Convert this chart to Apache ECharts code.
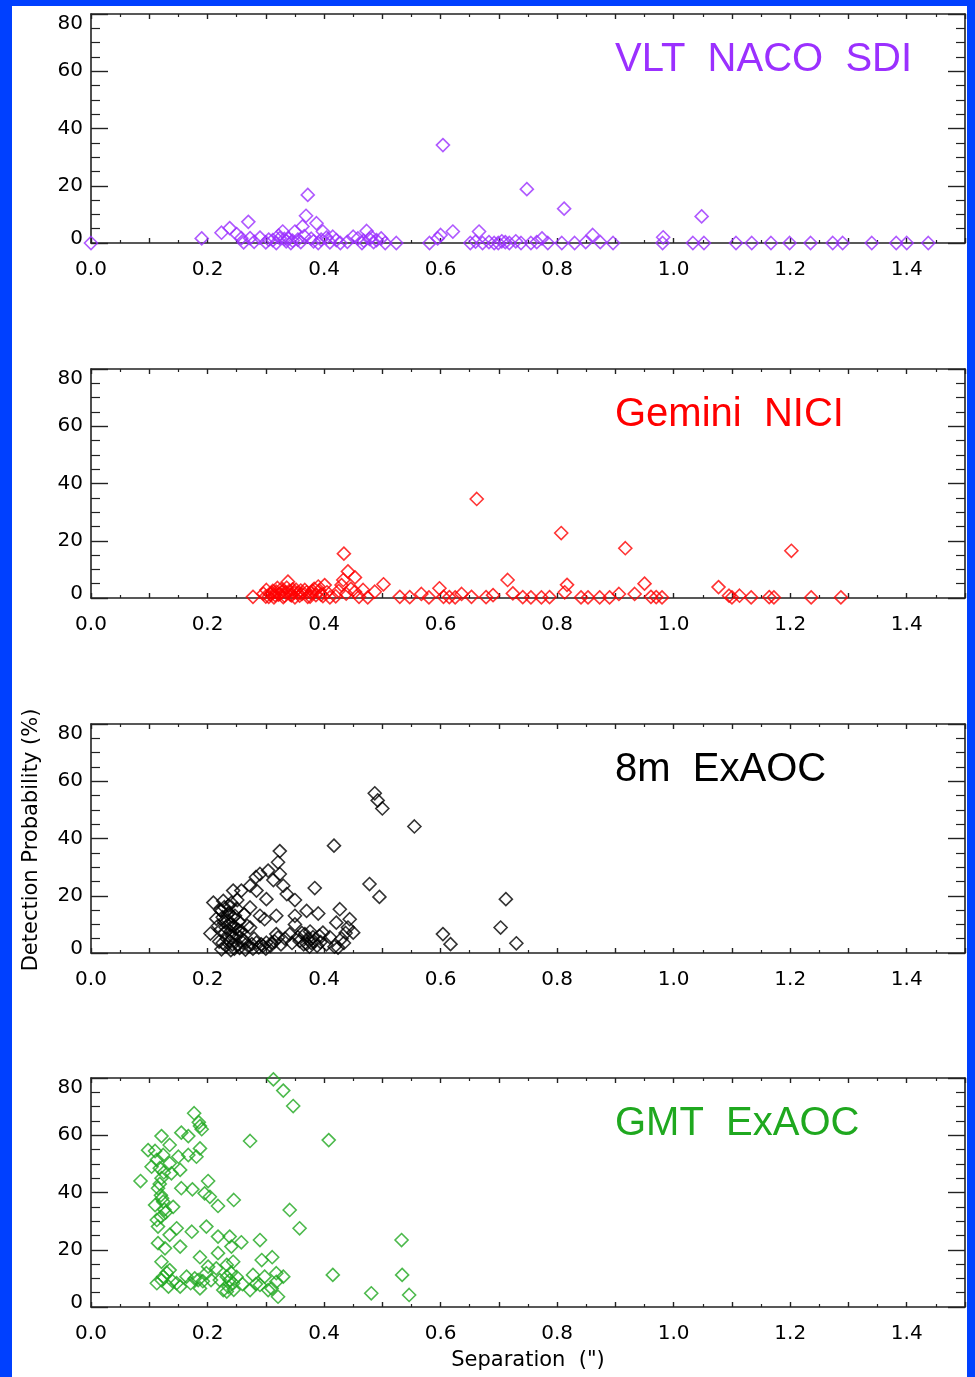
<!DOCTYPE html>
<html><head><meta charset="utf-8">
<script src="https://cdn.jsdelivr.net/npm/echarts@6/dist/echarts.min.js"></script>
<style>
html,body{margin:0;padding:0;background:#0040ff;}
#bg{position:absolute;left:12px;top:6px;width:955px;height:1371px;background:#ffffff;}
#c{position:absolute;left:0;top:0;width:975px;height:1377px;}
</style>
</head><body><div id="bg"></div><div id="c"></div>
<script>
const panelTitles = ['VLT  NACO  SDI', 'Gemini  NICI', '8m  ExAOC', 'GMT  ExAOC'];
const panelColors = ['#9b30ff', '#ff0000', '#000000', '#1fa81f'];
const xAxisTitle = 'Separation  (")';
const yAxisTitle = 'Detection Probability (%)';
const xMin = 0, xMax = 1.5, xStep = 0.1;
const yMin = 0, yMax = 80, yStep = 20;

// VLT NACO SDI
const vltSep = [0.0,0.19,0.224,0.238,0.25,0.258,0.27,0.273,0.262,0.28,0.29,0.3,0.312,0.318,0.324,0.329,0.335,0.338,0.343,0.35,0.355,0.363,0.369,0.372,0.36,0.378,0.387,0.39,0.398,0.404,0.41,0.415,0.421,0.428,0.45,0.458,0.465,0.473,0.481,0.485,0.49,0.498,0.505,0.524,0.581,0.595,0.6,0.604,0.621,0.651,0.66,0.666,0.672,0.683,0.692,0.699,0.705,0.711,0.718,0.729,0.738,0.748,0.755,0.765,0.774,0.784,0.808,0.812,0.83,0.849,0.861,0.874,0.896,0.982,0.981,1.033,1.048,1.052,1.107,1.134,1.167,1.199,1.235,1.273,1.29,1.34,1.382,1.4,1.437,0.305,0.322,0.332,0.346,0.366,0.382,0.395,0.44,0.468,0.478];
const vltProb = [0.0,1.6,3.6,5.2,3.1,1.7,7.4,1.7,0.2,0.4,1.9,0.2,1.0,0.0,1.7,4.0,0.6,1.7,0.0,4.0,1.2,5.8,9.5,16.8,0.3,1.5,6.9,0.0,4.0,1.9,0.2,2.2,1.0,0.0,2.2,1.6,0.0,4.2,2.2,0.3,1.0,1.6,0.0,0.0,0.0,1.6,2.8,34.2,4.0,0.0,0.5,4.0,0.0,0.3,0.0,0.0,0.6,0.3,0.0,0.6,0.0,18.8,0.0,0.3,1.6,0.0,0.0,12.0,0.0,0.3,2.8,0.3,0.0,2.0,0.0,0.0,9.3,0.0,0.0,0.0,0.0,0.0,0.0,0.0,0.0,0.0,0.0,0.0,0.0,1.2,2.6,1.4,0.8,2.4,0.6,1.2,0.4,0.8,1.4];

// Gemini NICI
const niciSep = [0.278,0.296,0.301,0.305,0.31,0.314,0.318,0.322,0.326,0.33,0.334,0.338,0.342,0.346,0.35,0.355,0.36,0.367,0.372,0.378,0.383,0.39,0.395,0.401,0.405,0.41,0.42,0.425,0.43,0.433,0.434,0.438,0.441,0.446,0.453,0.453,0.46,0.467,0.475,0.487,0.502,0.53,0.547,0.567,0.58,0.598,0.605,0.615,0.625,0.636,0.653,0.662,0.678,0.69,0.715,0.724,0.741,0.755,0.773,0.787,0.807,0.813,0.817,0.841,0.853,0.873,0.89,0.906,0.917,0.933,0.95,0.961,0.97,0.98,1.077,1.095,1.1,1.113,1.133,1.164,1.172,1.202,1.236,1.287,0.3,0.308,0.312,0.316,0.32,0.324,0.328,0.332,0.336,0.34,0.344,0.348,0.352,0.358,0.362,0.37,0.376,0.38,0.386,0.392,0.398];
const niciProb = [0.4,1.5,2.8,0.4,1.8,0.2,2.2,1.2,3.0,0.3,2.0,5.7,1.2,3.0,0.2,1.8,2.6,2.8,0.4,1.6,3.2,4.0,1.2,4.5,2.0,0.2,0.6,2.5,4.5,6.3,15.5,1.5,9.3,3.2,7.2,2.2,0.4,2.8,0.2,2.2,4.8,0.4,0.3,1.4,0.2,3.4,0.4,0.3,0.2,1.4,0.4,34.6,0.3,1.0,6.3,1.6,0.3,0.2,0.2,0.3,22.7,2.0,4.6,0.2,0.2,0.2,0.2,1.4,17.4,1.4,5.0,0.4,0.3,0.2,3.8,0.8,0.2,0.8,0.2,0.3,0.2,16.5,0.2,0.2,0.5,1.2,2.5,1.0,3.5,1.5,2.2,0.8,3.6,2.4,0.9,1.9,2.9,0.8,1.4,2.0,0.5,2.5,1.0,2.6,0.7];

// 8m ExAOC
const exaocSep = [0.205,0.21,0.215,0.218,0.22,0.222,0.224,0.224,0.227,0.228,0.23,0.232,0.234,0.236,0.238,0.24,0.242,0.244,0.244,0.246,0.248,0.25,0.252,0.254,0.256,0.258,0.258,0.261,0.263,0.265,0.268,0.273,0.273,0.273,0.276,0.28,0.284,0.284,0.288,0.29,0.29,0.292,0.298,0.301,0.301,0.304,0.308,0.313,0.315,0.318,0.318,0.321,0.321,0.324,0.324,0.326,0.33,0.333,0.336,0.341,0.345,0.35,0.35,0.35,0.355,0.358,0.362,0.365,0.367,0.37,0.372,0.376,0.378,0.381,0.384,0.388,0.39,0.392,0.398,0.404,0.41,0.417,0.418,0.421,0.424,0.427,0.43,0.434,0.437,0.441,0.444,0.45,0.478,0.487,0.492,0.495,0.5,0.555,0.604,0.617,0.703,0.712,0.73,0.222,0.226,0.229,0.231,0.233,0.235,0.237,0.239,0.241,0.243,0.245,0.247,0.249,0.251,0.253,0.226,0.24,0.255,0.262,0.27,0.278,0.295,0.3,0.31,0.37,0.375,0.383,0.394,0.283];
const exaocProb = [6.8,17.6,12.0,9.5,4.0,15.0,14.7,1.3,18.2,11.0,7.0,2.5,13.5,16.5,4.2,10.0,6.0,21.8,12.5,1.5,8.5,15.5,3.0,11.0,5.5,21.8,7.7,3.6,13.5,1.2,9.5,23.5,15.9,8.9,3.1,5.0,21.8,3.6,2.0,27.6,13.0,3.0,11.8,18.8,3.6,28.8,2.5,25.5,4.0,13.0,6.6,31.7,5.4,35.6,27.6,3.0,23.5,5.0,20.6,6.6,3.5,18.5,13.0,10.0,5.5,4.2,7.0,3.0,6.6,14.7,5.0,7.5,3.5,5.5,22.7,2.5,13.8,6.0,7.1,3.0,5.5,37.5,2.2,10.6,1.9,15.3,5.0,3.5,7.0,8.9,11.8,7.1,24.1,55.8,53.3,19.6,50.5,44.2,6.6,3.1,8.9,18.8,3.4,8.0,12.5,16.0,9.0,5.0,11.5,14.0,7.5,17.5,3.0,9.5,13.0,6.5,18.5,8.0,3.5,1.0,1.8,4.5,2.5,1.5,2.5,1.5,3.5,3.2,2.2,4.0,3.8,26.5];

// GMT ExAOC
const gmtSep = [0.313,0.33,0.347,0.273,0.408,0.177,0.185,0.187,0.19,0.121,0.155,0.167,0.135,0.098,0.11,0.187,0.181,0.167,0.15,0.124,0.113,0.104,0.118,0.135,0.153,0.138,0.121,0.085,0.201,0.155,0.174,0.195,0.204,0.218,0.245,0.115,0.12,0.11,0.124,0.141,0.128,0.113,0.115,0.147,0.173,0.198,0.135,0.115,0.153,0.127,0.218,0.238,0.258,0.29,0.341,0.358,0.241,0.218,0.187,0.121,0.293,0.311,0.244,0.201,0.215,0.135,0.233,0.278,0.298,0.318,0.33,0.318,0.29,0.304,0.321,0.273,0.415,0.533,0.534,0.481,0.546,0.113,0.124,0.13,0.14,0.147,0.164,0.171,0.187,0.178,0.192,0.227,0.233,0.238,0.236,0.233,0.244,0.24,0.221,0.206,0.198,0.184,0.153,0.133,0.121,0.245,0.25,0.26,0.283,0.31,0.118,0.122,0.126,0.12,0.125];
const gmtProb = [79.5,75.6,70.2,58.0,58.3,67.7,64.5,63.2,62.1,59.7,60.9,59.7,56.6,54.8,54.5,55.4,52.5,53.1,52.5,53.1,51.4,49.0,48.5,50.2,47.9,46.7,45.0,44.0,44.0,41.5,41.1,39.7,38.5,35.3,37.4,41.5,39.0,35.6,36.8,35.0,33.0,30.4,28.1,27.5,26.3,28.1,25.2,22.3,21.1,20.5,24.6,24.6,22.6,23.4,33.9,27.5,21.1,18.8,17.4,15.8,16.4,17.4,15.8,14.1,13.5,12.9,14.7,11.2,10.6,11.8,10.6,8.8,7.7,5.9,3.6,5.9,11.2,23.4,11.2,4.8,4.2,8.3,10.6,12.0,9.0,8.3,10.6,8.3,6.5,10.0,9.0,5.9,10.6,9.4,7.0,5.4,8.3,12.0,9.4,9.4,11.8,9.4,7.1,7.1,9.4,6.0,10.5,8.0,8.0,6.5,43.0,38.0,34.0,31.5,47.0];

const seps = [vltSep, niciSep, exaocSep, gmtSep];
const probs = [vltProb, niciProb, exaocProb, gmtProb];

const gridTops = [14, 369, 724, 1078];
const gridH = 229, gridL = 91, gridW = 874;
const axisColor = '#222';
const lab = {fontFamily: 'DejaVu Sans', fontSize: 20, color: '#000'};

const grids = [], xAxes = [], yAxes = [], series = [], graphics = [];
gridTops.forEach((t, i) => {
  grids.push({left: gridL, top: t, width: gridW, height: gridH, containLabel: false});
  ['bottom', 'top'].forEach(pos => {
    xAxes.push({
      gridIndex: i, type: 'value', position: pos, min: xMin, max: xMax, interval: xStep,
      axisLine: {show: true, onZero: false, lineStyle: {color: axisColor, width: 1.6}},
      axisTick: {show: true, inside: true, length: 5, lineStyle: {color: axisColor, width: 1.4}},
      minorTick: {show: true, splitNumber: 2, length: 3, lineStyle: {color: axisColor, width: 1.2}},
      splitLine: {show: false},
      axisLabel: pos === 'bottom' ? Object.assign({show: true, margin: 17, showMaxLabel: false,
        formatter: v => { const k = Math.round(v * 10); return k % 2 === 0 ? (k / 10).toFixed(1) : ''; }}, lab) : {show: false}
    });
  });
  ['left', 'right'].forEach(pos => {
    yAxes.push({
      gridIndex: i, type: 'value', position: pos, min: yMin, max: yMax, interval: yStep,
      axisLine: {show: true, onZero: false, lineStyle: {color: axisColor, width: 1.6}},
      axisTick: {show: true, inside: true, length: 17, lineStyle: {color: axisColor, width: 1.4}},
      minorTick: {show: true, splitNumber: 4, length: 9, lineStyle: {color: axisColor, width: 1.2}},
      splitLine: {show: false},
      axisLabel: pos === 'left' ? Object.assign({show: true, margin: 8, lineHeight: 20,
        verticalAlignMaxLabel: 'top', verticalAlignMinLabel: 'bottom',
        formatter: v => v === yMin ? '{z|' + v + '}' : String(v),
        rich: {z: {fontFamily: 'DejaVu Sans', fontSize: 20, color: '#000', lineHeight: 8}}}, lab) : {show: false}
    });
  });
  series.push({
    type: 'scatter', xAxisIndex: 2 * i, yAxisIndex: 2 * i,
    data: seps[i].map((s, j) => [s, probs[i][j]]),
    symbol: 'diamond', symbolSize: 13, clip: true, silent: true,
    itemStyle: {color: 'rgba(0,0,0,0)', borderColor: panelColors[i], borderWidth: 1.6}
  });
  graphics.push({
    type: 'text', left: 615, top: t + 26, silent: true,
    style: {text: panelTitles[i], fill: panelColors[i], font: '40px "Liberation Sans"'}
  });
});
graphics.push({
  type: 'text', x: 32, y: 840, rotation: Math.PI / 2, silent: true,
  style: {text: yAxisTitle, fill: '#000', font: '21px "DejaVu Sans"', align: 'center', verticalAlign: 'middle'}
});
graphics.push({
  type: 'text', x: 528, y: 1361, silent: true,
  style: {text: xAxisTitle, fill: '#000', font: '21px "DejaVu Sans"', align: 'center', verticalAlign: 'middle'}
});

const chart = echarts.init(document.getElementById('c'), null, {renderer: 'canvas'});
chart.setOption({
  backgroundColor: 'transparent',
  animation: false,
  grid: grids, xAxis: xAxes, yAxis: yAxes, series: series, graphic: graphics
});
</script>
</body></html>
